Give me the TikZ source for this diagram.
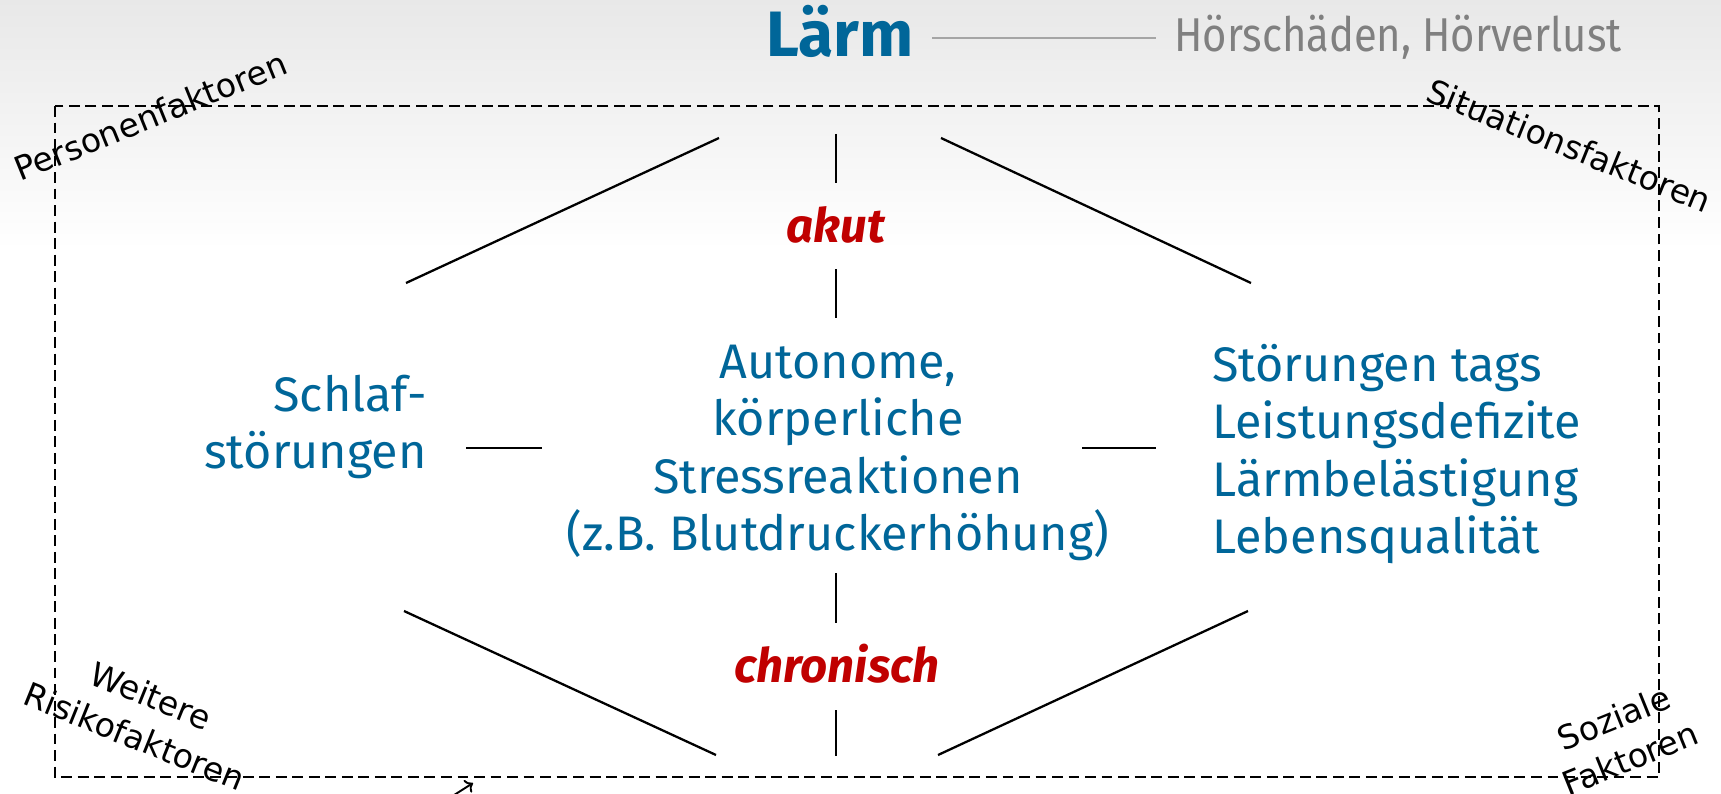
\documentclass[tikz,border=0pt]{standalone}
\usepackage{fontspec}
\setmainfont{Fira Sans}
\newfontfamily\factorfont{DejaVu Sans}
\newfontfamily\damagefont[FakeStretch=0.88]{Fira Sans}
\usetikzlibrary{
    arrows.meta,
    positioning,
    shadings
}
\definecolor{noiseblue}{RGB}{0,102,153}
\definecolor{phasered}{RGB}{192,0,0}
\definecolor{damagegray}{RGB}{128,128,128}
\definecolor{rulegray}{RGB}{165,165,165}

\begin{document}
\begin{tikzpicture}[
    x=0.02cm, y=-0.02cm,
    effect/.style={text=noiseblue, font=\fontsize{27.6}{32.7}\selectfont, inner sep=0pt},
    phase/.style={text=phasered, font=\fontsize{27}{32}\selectfont\bfseries\itshape, inner sep=0pt},
    factor/.style={font=\factorfont\fontsize{18.8}{25}\selectfont, inner sep=0pt, align=center},
    branch/.style={line width=1.3pt},
    factorbox/.style={line width=1.3pt, dash pattern=on 6.2pt off 3.2pt}
]
    % Background
    \useasboundingbox (0,0) rectangle (1721,794);
    \fill[white] (0,0) rectangle (1721,794);
    \shade[top color=black!9, bottom color=white] (0,0) rectangle (1721,250);

    % Title
    \node[text=noiseblue, font=\fontsize{36.5}{40}\selectfont\bfseries, inner sep=0pt, anchor=base west] (laerm) at (766,57) {Lärm};
    \node[text=damagegray, font=\damagefont\fontsize{27}{32}\selectfont, inner sep=0pt, anchor=base west] (hoer) at (1174,52) {Hörschäden, Hörverlust};
    \draw[rulegray, line width=1pt, shorten <=10.5pt, shorten >=10.5pt] (laerm.east |- hoer.west) -- (hoer.west);

    % Factor frame
    \draw[factorbox] (55,106) rectangle (1659,777);

    % Effects
    \node[effect, align=right, anchor=east] (sleep) at (427,427) {Schlaf-\\störungen};
    \node[effect, align=center] (stress) at (838,453) {Autonome,\\körperliche\\Stressreaktionen\\(z.B. Blutdruckerhöhung)};
    \node[effect, align=left, anchor=west] (daytime) at (1212,454) {Störungen tags\\Leistungsdefizite\\Lärmbelästigung\\Lebensqualität};

    % Acute / chronic
    \node[phase, anchor=base] (acute) at (836,242) {akut};
    \node[phase, anchor=base] (chronic) at (837,682) {chronisch};

    % Branch ends
    \coordinate (tl1) at (406,283);  \coordinate (tl2) at (719,138);
    \coordinate (tv1) at (836,134);  \coordinate (tv2) at (836,183);
    \coordinate (av1) at (836,269);  \coordinate (av2) at (836,318);
    \coordinate (tr1) at (941,138);  \coordinate (tr2) at (1251,283);
    \coordinate (lh1) at (466,448);  \coordinate (lh2) at (542,448);
    \coordinate (rh1) at (1082,448); \coordinate (rh2) at (1156,448);
    \coordinate (bl1) at (404,611);  \coordinate (bl2) at (716,755);
    \coordinate (cv1) at (836,573);  \coordinate (cv2) at (836,623);
    \coordinate (cv3) at (836,710);  \coordinate (cv4) at (836,756);
    \coordinate (br1) at (938,755);  \coordinate (br2) at (1248,611);

    % Branches
    \draw[branch] (tl1) -- (tl2);
    \draw[branch] (tv1) -- (tv2);
    \draw[branch] (av1) -- (av2);
    \draw[branch] (tr1) -- (tr2);
    \draw[branch] (lh1) -- (lh2);
    \draw[branch] (rh1) -- (rh2);
    \draw[branch] (bl1) -- (bl2);
    \draw[branch] (cv1) -- (cv2);
    \draw[branch] (cv3) -- (cv4);
    \draw[branch] (br1) -- (br2);

    % Factors
    \node[factor, rotate=22, anchor=base west] (person) at (20,182) {Personenfaktoren};
    \node[factor, rotate=-22, anchor=base west] (situation) at (1424,100) {Situationsfaktoren};
    \node[factor, rotate=-22] (risk) at (143,716) {Weitere\\Risikofaktoren};
    \node[factor, rotate=22] (social) at (1622,738) {Soziale\\Faktoren};

    % Arrow stub
    \coordinate (stubtail) at (451,797);
    \coordinate (stubtip) at (473,783);
    \draw[-{To[length=4pt]}, line width=1.1pt] (stubtail) -- (stubtip);
\end{tikzpicture}
\end{document}
